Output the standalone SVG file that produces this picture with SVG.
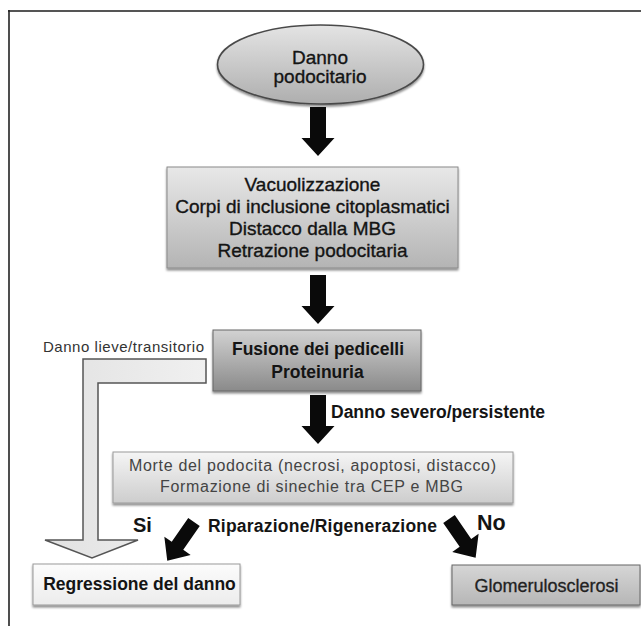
<svg xmlns="http://www.w3.org/2000/svg" width="641" height="626" viewBox="0 0 641 626">
  <defs>
    <linearGradient id="gEll" x1="0" y1="0" x2="0" y2="1">
      <stop offset="0" stop-color="#e4e4e4"/>
      <stop offset="1" stop-color="#aeaeae"/>
    </linearGradient>
    <linearGradient id="gBox2" x1="0" y1="0" x2="0" y2="1">
      <stop offset="0" stop-color="#e8e8e8"/>
      <stop offset="1" stop-color="#b4b4b4"/>
    </linearGradient>
    <linearGradient id="gFus" x1="0" y1="0" x2="0" y2="1">
      <stop offset="0" stop-color="#d2d2d2"/>
      <stop offset="1" stop-color="#8a8a8a"/>
    </linearGradient>
    <linearGradient id="gMorte" x1="0" y1="0" x2="0" y2="1">
      <stop offset="0" stop-color="#f5f5f5"/>
      <stop offset="1" stop-color="#cdcdcd"/>
    </linearGradient>
    <linearGradient id="gReg" x1="0" y1="0" x2="0" y2="1">
      <stop offset="0" stop-color="#fcfcfc"/>
      <stop offset="1" stop-color="#ececec"/>
    </linearGradient>
    <linearGradient id="gGlo" x1="0" y1="0" x2="0" y2="1">
      <stop offset="0" stop-color="#d6d6d6"/>
      <stop offset="1" stop-color="#b6b6b6"/>
    </linearGradient>
    <linearGradient id="gBent" x1="0" y1="0" x2="1" y2="0">
      <stop offset="0" stop-color="#e2e2e2"/>
      <stop offset="1" stop-color="#f0f0f0"/>
    </linearGradient>
    <filter id="shadow" x="-10%" y="-20%" width="120%" height="150%">
      <feDropShadow dx="0" dy="2" stdDeviation="1.2" flood-color="#000" flood-opacity="0.45"/>
    </filter>
    <path id="arrowV" d="M-8,0 H8 V31 H16.5 L0,49 L-16.5,31 H-8 Z"/>
    <path id="arrowD" d="M-7,0 H7 V29 H16 L0,47 L-16,29 H-7 Z"/>
  </defs>
  <style>
    text { font-family: "Liberation Sans", Arial, sans-serif; }
    .t19 { font-size: 19px; fill: #141414; stroke: #141414; stroke-width: 0.35px; text-anchor: middle; }
    .b { font-size: 17.5px; font-weight: bold; fill: #141414; }
    .blk { fill: #0a0a0a; }
  </style>

  <rect x="0" y="0" width="641" height="626" fill="#ffffff"/>
  <!-- frame -->
  <line x1="8" y1="11" x2="641" y2="11" stroke="#555" stroke-width="2"/>
  <line x1="9" y1="10" x2="9" y2="626" stroke="#222" stroke-width="1.6"/>

  <g id="node-danno">
    <ellipse cx="320.5" cy="64.5" rx="103" ry="39.5" fill="url(#gEll)" stroke="#4a4a4a" stroke-width="1.6" filter="url(#shadow)"/>
    <text class="t19" x="320" y="63.5">Danno</text>
    <text class="t19" x="320" y="83">podocitario</text>
  </g>

  <g id="node-vacuolizzazione">
    <rect x="167" y="167" width="291" height="101" fill="url(#gBox2)" stroke="#8a8a8a" stroke-width="1" filter="url(#shadow)"/>
    <text class="t19" x="312.5" y="191">Vacuolizzazione</text>
    <text class="t19" x="312.5" y="213">Corpi di inclusione citoplasmatici</text>
    <text class="t19" x="312.5" y="235">Distacco dalla MBG</text>
    <text class="t19" x="312.5" y="257">Retrazione podocitaria</text>
  </g>

  <g id="node-fusione">
    <rect x="213" y="330" width="208" height="61" fill="url(#gFus)" stroke="#666" stroke-width="1" filter="url(#shadow)"/>
    <text class="b" x="318" y="355" text-anchor="middle">Fusione dei pedicelli</text>
    <text class="b" x="317.5" y="378" text-anchor="middle">Proteinuria</text>
  </g>

  <g id="node-morte">
    <rect x="113" y="452" width="400" height="51" fill="url(#gMorte)" stroke="#9a9a9a" stroke-width="1" filter="url(#shadow)"/>
    <text x="129" y="471" font-size="16" fill="#444" textLength="367" lengthAdjust="spacing">Morte del podocita (necrosi, apoptosi, distacco)</text>
    <text x="160" y="492" font-size="16" fill="#444" textLength="303" lengthAdjust="spacing">Formazione di sinechie tra CEP e MBG</text>
  </g>

  <g id="node-regressione">
    <rect x="33" y="564" width="207" height="41" fill="url(#gReg)" stroke="#999" stroke-width="1" filter="url(#shadow)"/>
    <text class="b" x="139.5" y="590" text-anchor="middle">Regressione del danno</text>
  </g>

  <g id="node-glomerulosclerosi">
    <rect x="452" y="565" width="188" height="40" fill="url(#gGlo)" stroke="#666" stroke-width="1" filter="url(#shadow)"/>
    <text x="546.5" y="592" font-size="18" fill="#222" stroke="#222" stroke-width="0.3" text-anchor="middle">Glomerulosclerosi</text>
  </g>

  <g id="connectors">
    <use href="#arrowV" class="blk" transform="translate(318,107)"/>
    <use href="#arrowV" class="blk" transform="translate(318,275)"/>
    <use href="#arrowV" class="blk" transform="translate(318,395)"/>
    <path d="M206,359 H83 V540 H45 L92,558 L138,540 H98 V383 H206 Z" fill="url(#gBent)" stroke="#555" stroke-width="1.5" stroke-linejoin="miter"/>
    <use href="#arrowD" class="blk" transform="translate(194,522) rotate(34.7)"/>
    <use href="#arrowD" class="blk" transform="translate(449,519) rotate(-34.5)"/>
  </g>

  <g id="labels">
    <text x="43" y="352" font-size="15" fill="#333" textLength="161" lengthAdjust="spacing">Danno lieve/transitorio</text>
    <text class="b" x="331" y="418">Danno severo/persistente</text>
    <text x="133" y="532" font-size="20" font-weight="bold" fill="#141414">Si</text>
    <text class="b" x="208" y="532" textLength="229" lengthAdjust="spacing">Riparazione/Rigenerazione</text>
    <text x="477" y="530" font-size="21.5" font-weight="bold" fill="#141414">No</text>
  </g>
</svg>
